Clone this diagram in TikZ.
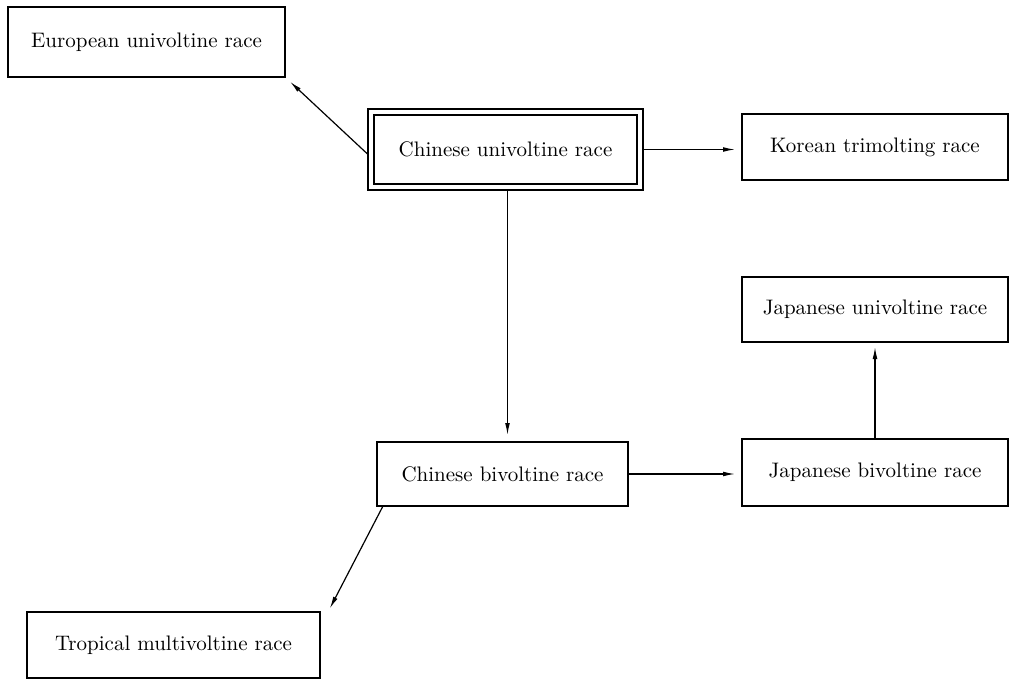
\documentclass[tikz,border=0pt]{standalone}
\usetikzlibrary{arrows.meta}

\begin{document}
\begin{tikzpicture}[x=0.5pt,y=-0.5pt]
    \tikzstyle{race}=[draw, line width=1pt, inner sep=0pt, outer sep=0pt, font=\fontsize{10.5}{12}\selectfont]
    \tikzstyle{link}=[-{Latex[length=6pt,width=2.4pt]}, line width=0.6pt, shorten >=3.5pt]
    \useasboundingbox (0,0) rectangle (1011,679);
    \node[race, minimum width=138.5pt, minimum height=35pt] (eur) at (146.5,42) {European univoltine race};
    \node[race, double, line width=0.8pt, double distance=2.2pt, minimum width=134.25pt, minimum height=37.25pt] (cuni) at (505.5,149.5) {Chinese univoltine race};
    \node[race, minimum width=133pt, minimum height=33pt] (kor) at (875,147) {Korean trimolting race};
    \node[race, minimum width=133pt, minimum height=32.5pt] (juni) at (875,309.5) {Japanese univoltine race};
    \node[race, minimum width=125.5pt, minimum height=32pt] (cbi) at (502.5,474) {Chinese bivoltine race};
    \node[race, minimum width=133pt, minimum height=33.5pt] (jbi) at (875,472.5) {Japanese bivoltine race};
    \node[race, minimum width=146.5pt, minimum height=33pt] (trop) at (173.5,645) {Tropical multivoltine race};
    \draw[link, shorten <=2pt] ([yshift=-4pt]cuni.west) -- (eur.south east);
    \draw[link, shorten <=2pt] (cuni.east) -- (cuni.east -| kor.west);
    \draw[link, shorten <=2pt] ([xshift=1pt]cuni.south) -- ([xshift=1pt]cuni.south |- cbi.north);
    \draw[link] (cbi.east) -- (cbi.east -| jbi.west);
    \draw[link, shorten >=2.5pt] (jbi.north) -- (juni.south);
    \draw[link, shorten >=2pt] ([xshift=3pt]cbi.south west) -- ([xshift=4pt]trop.north east);
\end{tikzpicture}
\end{document}
